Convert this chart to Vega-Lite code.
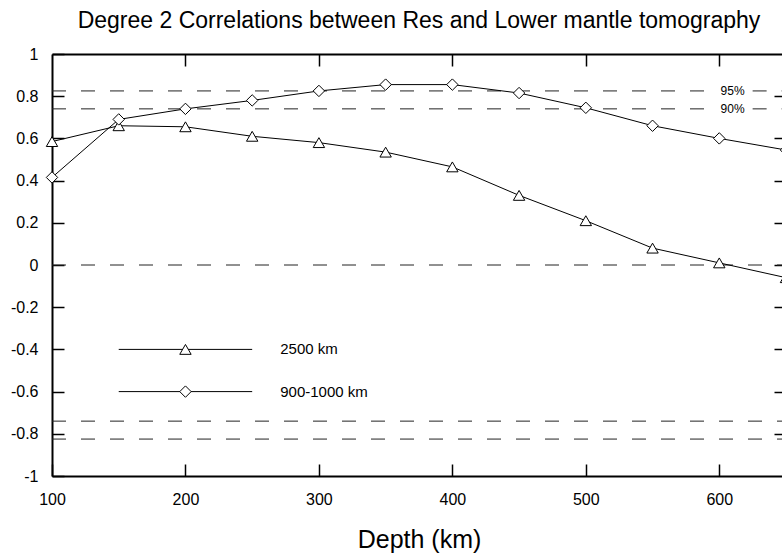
{
  "$schema": "https://vega.github.io/schema/vega-lite/v6.json",
  "width": 734,
  "height": 422,
  "autosize": {"type": "none"},
  "padding": {"left": 52, "top": 54, "right": 0, "bottom": 79},
  "background": "white",
  "config": {
    "view": {"stroke": null},
    "font": "Liberation Sans",
    "axis": {"grid": false, "domainColor": "black", "tickColor": "black", "labelColor": "black", "titleColor": "black"}
  },
  "title": {
    "text": "Degree 2 Correlations between Res and Lower mantle tomography",
    "fontSize": 23,
    "fontWeight": "normal",
    "font": "Liberation Sans",
    "color": "black",
    "anchor": "middle",
    "offset": 13
  },
  "datasets": {
    "series": [
      {"depth": 100, "corr": 0.585, "series": "2500 km"},
      {"depth": 150, "corr": 0.66, "series": "2500 km"},
      {"depth": 200, "corr": 0.655, "series": "2500 km"},
      {"depth": 250, "corr": 0.61, "series": "2500 km"},
      {"depth": 300, "corr": 0.58, "series": "2500 km"},
      {"depth": 350, "corr": 0.535, "series": "2500 km"},
      {"depth": 400, "corr": 0.465, "series": "2500 km"},
      {"depth": 450, "corr": 0.33, "series": "2500 km"},
      {"depth": 500, "corr": 0.21, "series": "2500 km"},
      {"depth": 550, "corr": 0.08, "series": "2500 km"},
      {"depth": 600, "corr": 0.01, "series": "2500 km"},
      {"depth": 650, "corr": -0.06, "series": "2500 km"},
      {"depth": 100, "corr": 0.415, "series": "900-1000 km"},
      {"depth": 150, "corr": 0.69, "series": "900-1000 km"},
      {"depth": 200, "corr": 0.74, "series": "900-1000 km"},
      {"depth": 250, "corr": 0.78, "series": "900-1000 km"},
      {"depth": 300, "corr": 0.825, "series": "900-1000 km"},
      {"depth": 350, "corr": 0.855, "series": "900-1000 km"},
      {"depth": 400, "corr": 0.855, "series": "900-1000 km"},
      {"depth": 450, "corr": 0.815, "series": "900-1000 km"},
      {"depth": 500, "corr": 0.745, "series": "900-1000 km"},
      {"depth": 550, "corr": 0.66, "series": "900-1000 km"},
      {"depth": 600, "corr": 0.6, "series": "900-1000 km"},
      {"depth": 650, "corr": 0.545, "series": "900-1000 km"}
    ],
    "refs": [
      {"x1": 100, "x2": 593, "y": 0.825},
      {"x1": 625, "x2": 650, "y": 0.825},
      {"x1": 100, "x2": 593, "y": 0.74},
      {"x1": 625, "x2": 650, "y": 0.74},
      {"x1": 100, "x2": 650, "y": 0},
      {"x1": 100, "x2": 650, "y": -0.74},
      {"x1": 100, "x2": 650, "y": -0.825}
    ],
    "pct": [
      {"x": 601, "y": 0.825, "label": "95%"},
      {"x": 601, "y": 0.74, "label": "90%"}
    ],
    "legendLines": [
      {"x": 150, "y": -0.4, "series": "2500 km"},
      {"x": 250, "y": -0.4, "series": "2500 km"},
      {"x": 150, "y": -0.6, "series": "900-1000 km"},
      {"x": 250, "y": -0.6, "series": "900-1000 km"}
    ],
    "legendItems": [
      {"x": 200, "tx": 271, "y": -0.4, "series": "2500 km"},
      {"x": 200, "tx": 271, "y": -0.6, "series": "900-1000 km"}
    ]
  },
  "layer": [
    {
      "data": {"name": "refs"},
      "mark": {"type": "rule", "strokeDash": [14, 15], "color": "#222222", "strokeWidth": 1},
      "encoding": {
        "x": {"field": "x1", "type": "quantitative", "scale": {"domain": [100, 650], "nice": false, "zero": false}, "axis": null},
        "x2": {"field": "x2"},
        "y": {"field": "y", "type": "quantitative", "scale": {"domain": [-1, 1], "nice": false, "zero": false}, "axis": null}
      }
    },
    {
      "data": {"name": "series"},
      "mark": {"type": "line", "color": "black", "strokeWidth": 1},
      "encoding": {
        "x": {
          "field": "depth", "type": "quantitative",
          "scale": {"domain": [100, 650], "nice": false, "zero": false},
          "axis": {
            "orient": "bottom", "values": [100, 200, 300, 400, 500, 600],
            "tickSize": -12, "tickWidth": 1.5, "domainWidth": 2,
            "labelFontSize": 16, "labelPadding": 27, "labelFlush": false, "labelOverlap": false,
            "title": "Depth (km)", "titleFontSize": 25, "titleFontWeight": "normal", "titlePadding": 20
          }
        },
        "y": {
          "field": "corr", "type": "quantitative",
          "scale": {"domain": [-1, 1], "nice": false, "zero": false},
          "axis": {
            "orient": "left", "values": [-1, -0.8, -0.6, -0.4, -0.2, 0, 0.2, 0.4, 0.6, 0.8, 1],
            "labelExpr": "datum.value < 0 ? '-' + format(-datum.value, '~g') : format(datum.value, '~g')",
            "tickSize": -12, "tickWidth": 1.5, "domainWidth": 2,
            "labelFontSize": 16, "labelPadding": 26, "labelFlush": false, "labelOverlap": false,
            "title": null
          }
        },
        "detail": {"field": "series"}
      }
    },
    {
      "data": {"name": "series"},
      "mark": {"type": "point", "filled": true, "fill": "white", "stroke": "black", "strokeWidth": 1, "size": 130, "opacity": 1},
      "encoding": {
        "x": {
          "field": "depth", "type": "quantitative",
          "scale": {"domain": [100, 650], "nice": false, "zero": false},
          "axis": {"orient": "top", "values": [200, 300, 400, 500, 600], "labels": false, "tickSize": -12, "tickWidth": 1.5, "domainWidth": 2, "title": null}
        },
        "y": {
          "field": "corr", "type": "quantitative",
          "scale": {"domain": [-1, 1], "nice": false, "zero": false},
          "axis": {"orient": "right", "values": [-0.8, -0.6, -0.4, -0.2, 0, 0.2, 0.4, 0.6, 0.8], "labels": false, "tickSize": -12, "tickWidth": 1.5, "domainWidth": 2, "title": null}
        },
        "shape": {"field": "series", "type": "nominal", "scale": {"domain": ["2500 km", "900-1000 km"], "range": ["triangle-up", "diamond"]}, "legend": null}
      }
    },
    {
      "data": {"name": "pct"},
      "mark": {"type": "text", "align": "left", "baseline": "middle", "fontSize": 12, "color": "black"},
      "encoding": {
        "x": {"field": "x", "type": "quantitative", "axis": null},
        "y": {"field": "y", "type": "quantitative", "axis": null},
        "text": {"field": "label"}
      }
    },
    {
      "data": {"name": "legendLines"},
      "mark": {"type": "line", "color": "black", "strokeWidth": 1},
      "encoding": {
        "x": {"field": "x", "type": "quantitative", "axis": null},
        "y": {"field": "y", "type": "quantitative", "axis": null},
        "detail": {"field": "series"}
      }
    },
    {
      "data": {"name": "legendItems"},
      "mark": {"type": "point", "filled": true, "fill": "white", "stroke": "black", "strokeWidth": 1, "size": 130, "opacity": 1},
      "encoding": {
        "x": {"field": "x", "type": "quantitative", "axis": null},
        "y": {"field": "y", "type": "quantitative", "axis": null},
        "shape": {"field": "series", "type": "nominal", "legend": null}
      }
    },
    {
      "data": {"name": "legendItems"},
      "mark": {"type": "text", "align": "left", "baseline": "middle", "fontSize": 15, "color": "black"},
      "encoding": {
        "x": {"field": "tx", "type": "quantitative", "axis": null},
        "y": {"field": "y", "type": "quantitative", "axis": null},
        "text": {"field": "series"}
      }
    }
  ],
  "resolve": {"axis": {"x": "independent", "y": "independent"}}
}
